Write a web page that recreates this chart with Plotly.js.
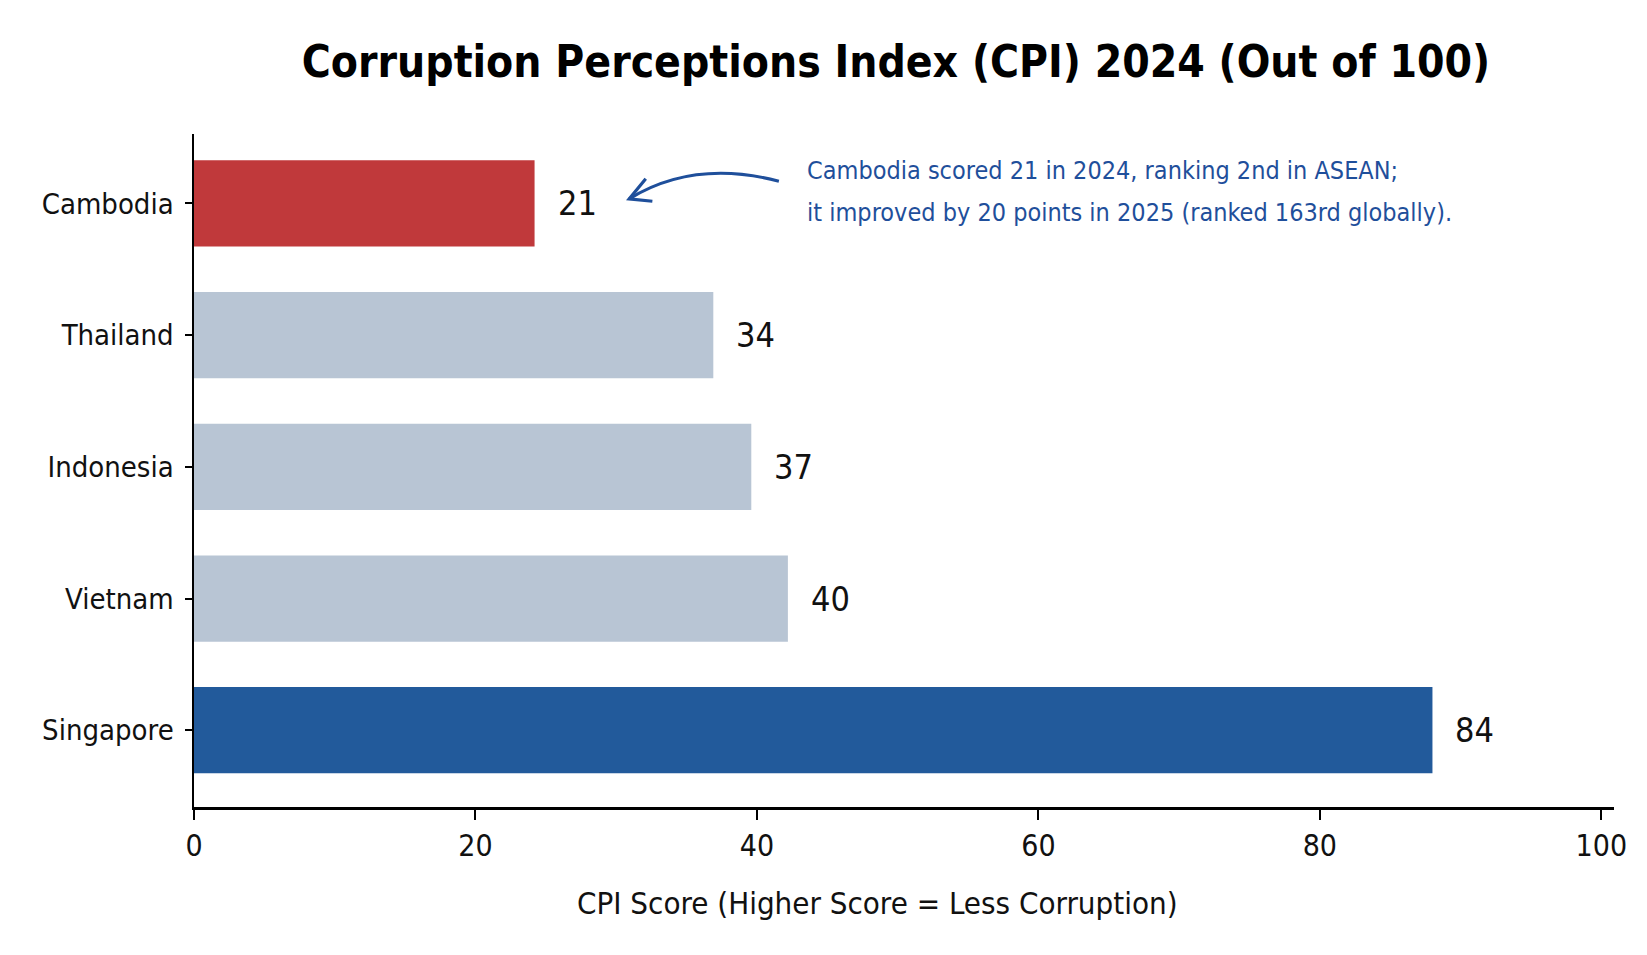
<!DOCTYPE html>
<html>
<head>
<meta charset="utf-8">
<script src="https://cdn.plot.ly/plotly-3.0.1.min.js"></script>
<style>
  html, body { margin: 0; padding: 0; background: #ffffff; }
  #chart { width: 1647px; height: 955px; }
</style>
</head>
<body>
<div id="chart"></div>
<script>
// ---- data ----
var countries = ['Cambodia', 'Thailand', 'Indonesia', 'Vietnam', 'Singapore'];
var barLengths = [24.2, 36.9, 39.6, 42.2, 88.0];   // bar lengths as drawn in the reference
var scoreLabels = ['21', '34', '37', '40', '84'];    // score labels written next to the bars
var xTicks = [0, 20, 40, 60, 80, 100];
var xTitle = 'CPI Score (Higher Score = Less Corruption)';
var noteLines = [
  'Cambodia scored 21 in 2024, ranking 2nd in ASEAN;',
  'it improved by 20 points in 2025 (ranked 163rd globally).'
];

// ---- styles ----
var FONT = '"DejaVu Sans Condensed", "Liberation Sans Narrow", "Roboto", sans-serif';
var barColors = ['#C0393B', '#B8C5D4', '#B8C5D4', '#B8C5D4', '#225A9B'];
var noteColor = '#1F4F9B';
var inkColor = '#111111';

var trace = {
  type: 'bar',
  orientation: 'h',
  y: countries,
  x: barLengths,
  marker: { color: barColors, line: { width: 0 } },
  hoverinfo: 'skip'
};

var annotations = countries.map(function (c, i) {
  return {
    x: barLengths[i], y: c, xref: 'x', yref: 'y',
    text: scoreLabels[i], showarrow: false,
    xanchor: 'left', yanchor: 'middle', xshift: 21,
    font: { family: FONT, size: 34, color: inkColor }
  };
});

var noteY = [0.9457, 0.8833];
noteLines.forEach(function (t, i) {
  annotations.push({
    x: 43.4, y: noteY[i], xref: 'x', yref: 'paper',
    text: t, showarrow: false, xanchor: 'left', yanchor: 'middle',
    font: { family: FONT, size: 25, color: noteColor }
  });
});

// x-axis title (placed as in the reference, slightly left of the plot centre)
annotations.push({
  x: 0.481, y: -0.1428, xref: 'paper', yref: 'paper',
  text: xTitle, showarrow: false, xanchor: 'center', yanchor: 'middle',
  font: { family: FONT, size: 31, color: inkColor }
});

var shapes = [
  { type: 'path', xref: 'x', yref: 'paper',
    path: 'M 41.56 0.9298 Q 35.53 0.9628 30.92 0.9036',
    line: { color: noteColor, width: 3 } },
  { type: 'path', xref: 'x', yref: 'paper',
    path: 'M 32.1 0.9334 L 30.92 0.9036 L 32.57 0.9001',
    line: { color: noteColor, width: 3.2 } }
];

var layout = {
  width: 1647, height: 955,
  margin: { l: 194, r: 33, t: 134, b: 148, pad: 0 },
  paper_bgcolor: '#ffffff', plot_bgcolor: '#ffffff',
  showlegend: false,
  bargap: 0.345,
  title: {
    text: 'Corruption Perceptions Index (CPI) 2024 (Out of 100)',
    x: 0.544, xanchor: 'center', xref: 'container',
    y: 0.936, yanchor: 'middle', yref: 'container',
    font: { family: FONT, size: 44, color: '#000000', weight: 700 }
  },
  xaxis: {
    range: [0, 100.9],
    tickvals: xTicks,
    ticktext: xTicks.map(String),
    showgrid: false, zeroline: false,
    showline: true, linecolor: '#000000', linewidth: 2.5,
    ticks: 'outside', ticklen: 10, tickwidth: 2, tickcolor: '#000000',
    tickfont: { family: FONT, size: 30, color: inkColor },
    fixedrange: true
  },
  yaxis: {
    type: 'category',
    categoryorder: 'array', categoryarray: countries,
    range: [4.583, -0.527],
    showgrid: false, zeroline: false,
    showline: true, linecolor: '#000000', linewidth: 2.5,
    ticks: 'outside', ticklen: 7, tickwidth: 2, tickcolor: '#000000',
    ticklabelstandoff: 5,
    tickfont: { family: FONT, size: 29, color: inkColor },
    fixedrange: true
  },
  annotations: annotations,
  shapes: shapes
};

Plotly.newPlot('chart', [trace], layout, { displayModeBar: false, staticPlot: true });
</script>
</body>
</html>
